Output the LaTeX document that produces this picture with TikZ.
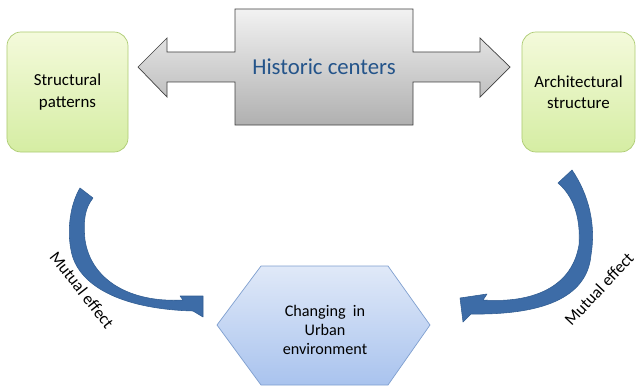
\documentclass[tikz,border=0pt]{standalone}
\usepackage{fontspec}
\setmainfont{Carlito}
\usepackage{xcolor}
\usepackage{tikz}
\usetikzlibrary{positioning}
\definecolor{greentop}{HTML}{F4FADB}
\definecolor{greenbot}{HTML}{D5EDA3}
\definecolor{greenrule}{HTML}{ADCB73}
\definecolor{hubtop}{HTML}{F2F2F2}
\definecolor{hubbot}{HTML}{B0B0B0}
\definecolor{hubtext}{HTML}{24548A}
\definecolor{hextop}{HTML}{E0E9F8}
\definecolor{hexbot}{HTML}{A9C3EE}
\definecolor{hexrule}{HTML}{7F9FCF}
\definecolor{curvefill}{HTML}{3D6CA7}
\definecolor{curverule}{HTML}{315D92}

\begin{document}
\begin{tikzpicture}[x=0.025cm, y=-0.025cm, line width=0.5pt,
  every node/.style={font=\fontsize{12}{15}\selectfont, align=center},
  greenbox/.style={draw=greenrule, top color=greentop, bottom color=greenbot,
    rounded corners=10pt, minimum height=3cm, inner sep=0pt},
  curved/.style={fill=curvefill, draw=curverule, line width=0.4pt, line join=round},
  sidelabel/.style={font=\fontsize{12}{14}\selectfont, inner sep=1pt}]

\useasboundingbox (0,0) rectangle (637,387);

% ---------------- top row: two boxes and the hub with its double arrow ------
\node[greenbox, minimum width=3.025cm] (structural) at (67.5,92) {Structural\\patterns};
\node[greenbox, minimum width=2.825cm] (architectural) at (578.5,92) {Architectural\\structure};

\shade[draw=black!75, top color=hubtop, bottom color=hubbot]
  (138,67) -- (167,38) -- (167,52) -- (235,52) -- (235,9) -- (413,9) -- (413,52)
  -- (480,52) -- (480,38) -- (510,67) -- (480,97) -- (480,82) -- (413,82)
  -- (413,125) -- (235,125) -- (235,82) -- (167,82) -- (167,97) -- cycle;
\node[font=\fontsize{16.2}{18}\selectfont, text=hubtext] (historic) at (324,67) {Historic centers};

% ---------------- bottom: hexagon ------------------------------------------
\coordinate (hexW) at (217,325);
\coordinate (hexE) at (430,325);
\shade[draw=hexrule, top color=hextop, bottom color=hexbot]
  (hexW) -- (261,266) -- (388,266) -- (hexE) -- (388,385) -- (261,385) -- cycle;
\node[font=\fontsize{11.5}{13.6}\selectfont] (urban) at (325,330) {Changing\ \ in\\Urban\\environment};

% ---------------- curved arrows --------------------------------------------
\coordinate (lefttail) at (80,188);
\coordinate (lefttip) at (203,296);
\filldraw[curved] (lefttail) .. controls (70,205) and (67,230) .. (71,250)
  .. controls (77,285) and (120,309) .. (193,311) -- (203,317) -- (lefttip)
  -- (180,296) -- (183,300) .. controls (130,303) and (91,280) .. (85,240)
  .. controls (83,220) and (85,208) .. (93,198) -- cycle;

\coordinate (righttail) at (572,170);
\coordinate (righttip) at (460,298);
\filldraw[curved] (righttail) .. controls (589,195) and (596,225) .. (591,255)
  .. controls (587,299) and (540,315) .. (471,314) -- (463,322) -- (righttip)
  -- (487,294) -- (483,300) .. controls (525,303) and (571,292) .. (579,245)
  .. controls (581,215) and (572,195) .. (558,183) -- cycle;

\node[sidelabel, rotate=-52] (leftlabel) at (82,290) {Mutual effect};
\node[sidelabel, rotate=47] (rightlabel) at (599,289) {Mutual effect};

\end{tikzpicture}
\end{document}
